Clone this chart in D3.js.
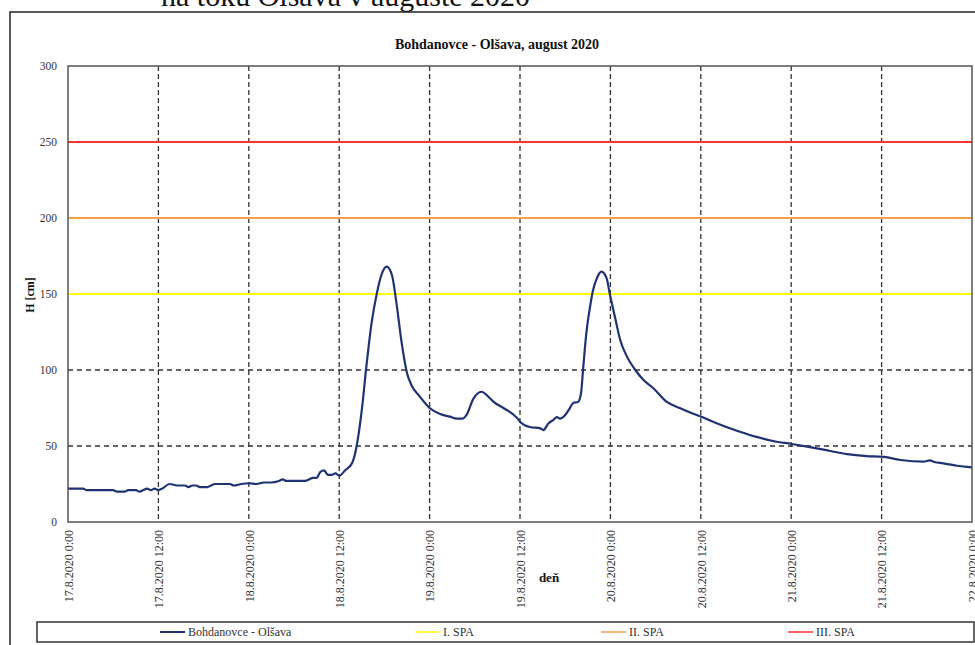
<!DOCTYPE html>
<html><head><meta charset="utf-8">
<script src="https://cdn.jsdelivr.net/npm/d3@7"></script>
<style>body{margin:0;background:#fff}svg{display:block}text{font-family:"Liberation Serif","Times New Roman",serif}</style>
</head><body><svg id="c" width="975" height="645"></svg>
<script>
const title = "Bohdanovce - Olšava, august 2020";
const heading = "na toku Olšava v auguste 2020";
const yTicks = [0, 50, 100, 150, 200, 250, 300];
const xTickLabels = ["17.8.2020 0:00","17.8.2020 12:00","18.8.2020 0:00","18.8.2020 12:00","19.8.2020 0:00","19.8.2020 12:00","20.8.2020 0:00","20.8.2020 12:00","21.8.2020 0:00","21.8.2020 12:00","22.8.2020 0:00"];
// hours since 17.8.2020 0:00
const hours = [0,2,2.5,6,6.5,7.5,8,9,9.5,10,10.5,11,11.5,12,12.5,13.5,14.5,15.5,16,16.5,17,17.5,18.5,19,19.5,21.5,22,23,24,25,26,27,28,28.5,29,31.5,32,32.5,33,33.5,34,34.5,35,35.5,36,36.8,37.7,38.3,39,39.6,40.3,41,41.6,42.3,43,43.6,44.3,45,45.6,46.7,48,49.4,50.7,51.6,52.4,52.9,53.8,54.9,55.8,56.5,57.8,59.6,60,61.3,62.7,63.1,63.8,64.4,64.9,65.3,66,66.6,67.1,67.7,68.1,68.4,68.8,69.3,69.7,70.2,70.8,71.5,71.9,72.6,73.3,74.2,75.3,76.4,77.7,79.5,81.2,82.6,84.1,86.1,89.2,91.4,93.6,96.1,98.1,101.2,103.4,106,108,110.5,113.6,114.4,115,116.2,118,120];
const levels = [22,22,21,21,20,20,21,21,20,21,22,21,22,21,22,25,24,24,23,24,24,23,23,24,25,25,24,25,25.5,25,26,26,27,28,27,27,28,29,29,33,34,31,31,32,30.5,34,38.6,49.5,73.7,102,131,150.5,162.5,168,162.5,144,117.7,98,90,82.5,75,71,69.3,68,68,70.4,81,85.7,82.4,79,75,68.5,66,62.5,61.6,60.5,65,67,69,68,70.4,74.8,78.5,79,84.7,102,124,141.6,152.6,160.3,164.7,160.3,150.5,135,119.7,108.8,100,93.4,88,79,75,72,69.3,65,59.4,56,53.3,51.3,49.6,46.7,44.7,43.4,43,40.8,39.7,40.5,39.5,38.6,37,36];
const spaNames = ["I. SPA","II. SPA","III. SPA"];
const spaValues = [150, 200, 250];
const spaColors = ["#ffff00","#f7a04a","#ff3030"];
const seriesName = "Bohdanovce - Olšava";
const seriesColor = "#1f3374";

const svg = d3.select("#c");
const L = 68, R = 972, T = 66, B = 522;
const t0 = new Date(2020, 7, 17, 0, 0);
const x = d3.scaleTime().domain([t0, new Date(2020, 7, 22, 0, 0)]).range([L, R]);
const y = d3.scaleLinear().domain([0, 300]).range([B, T]);
const hToDate = h => new Date(t0.getTime() + h * 3600000);
const tickDates = xTickLabels.map((s, i) => hToDate(i * 12));

// heading (cut at top)
svg.append("text").attr("x", 161).attr("y", 6).attr("font-size", 30).attr("fill", "#111").text(heading);
// outer frame
svg.append("rect").attr("x", 10).attr("y", 12).attr("width", 990).attr("height", 660)
  .attr("fill", "none").attr("stroke", "#222").attr("stroke-width", 1.5);
// title
svg.append("text").attr("x", 497).attr("y", 49).attr("text-anchor", "middle")
  .attr("font-size", 14).attr("font-weight", "bold").attr("fill", "#111").text(title);

// grid
const g = svg.append("g");
g.selectAll(".vg").data(tickDates.slice(1, -1)).join("line")
  .attr("x1", d => x(d)).attr("x2", d => x(d)).attr("y1", T).attr("y2", B)
  .attr("stroke", "#333").attr("stroke-width", 1.3).attr("stroke-dasharray", "5,3");
g.selectAll(".hg").data(yTicks.slice(1, -1)).join("line")
  .attr("x1", L).attr("x2", R).attr("y1", d => y(d)).attr("y2", d => y(d))
  .attr("stroke", "#333").attr("stroke-width", 1.3).attr("stroke-dasharray", "5,4");

// SPA lines
g.selectAll(".spa").data(spaValues).join("line")
  .attr("x1", L).attr("x2", R).attr("y1", d => y(d)).attr("y2", d => y(d))
  .attr("stroke", (d, i) => spaColors[i]).attr("stroke-width", 1.8);

// axes
const yAxis = d3.axisLeft(y).tickValues(yTicks).tickSize(0).tickPadding(11);
const ya = svg.append("g").attr("transform", `translate(${L},0)`).call(yAxis);
ya.select(".domain").remove();
ya.selectAll("text").attr("font-size", 11.5).attr("fill", "#333").attr("font-family", "Liberation Serif");

const xAxis = d3.axisBottom(x).tickValues(tickDates).tickSize(0).tickFormat((d, i) => xTickLabels[i]);
const xa = svg.append("g").attr("transform", `translate(0,${B})`).call(xAxis);
xa.select(".domain").remove();
xa.selectAll("text").attr("font-size", 12).attr("fill", "#333").attr("font-family", "Liberation Serif")
  .attr("text-anchor", "end").attr("transform", "rotate(-90)").attr("x", -8).attr("y", 0).attr("dy", "0.35em")
  .attr("dx", 0);

// line
const pts = hours.map((h, i) => [hToDate(h), levels[i]]);
svg.append("path").datum(pts)
  .attr("d", d3.line().x(d => x(d[0])).y(d => y(d[1])).curve(d3.curveMonotoneX))
  .attr("fill", "none").attr("stroke", seriesColor).attr("stroke-width", 2.2).attr("stroke-linejoin", "round");

// plot border
svg.append("rect").attr("x", L).attr("y", T).attr("width", R - L).attr("height", B - T)
  .attr("fill", "none").attr("stroke", "#555").attr("stroke-width", 1.5);

// axis titles
svg.append("text").attr("transform", "translate(34,295) rotate(-90)").attr("text-anchor", "middle")
  .attr("font-size", 12).attr("font-weight", "bold").attr("fill", "#111").text("H [cm]");
svg.append("text").attr("x", 549).attr("y", 582).attr("text-anchor", "middle")
  .attr("font-size", 13).attr("font-weight", "bold").attr("fill", "#111").text("deň");

// legend
svg.append("rect").attr("x", 37).attr("y", 622).attr("width", 937).attr("height", 20)
  .attr("fill", "#fff").attr("stroke", "#333").attr("stroke-width", 1.5);
const legItems = [
  {name: seriesName, color: seriesColor, x: 160, w: 2},
  {name: spaNames[0], color: spaColors[0], x: 415, w: 1.5},
  {name: spaNames[1], color: spaColors[1], x: 601, w: 1.5},
  {name: spaNames[2], color: spaColors[2], x: 788, w: 1.5}
];
const lg = svg.selectAll(".leg").data(legItems).join("g");
lg.append("line").attr("x1", d => d.x).attr("x2", d => d.x + 25).attr("y1", 632).attr("y2", 632)
  .attr("stroke", d => d.color).attr("stroke-width", d => d.w);
lg.append("text").attr("x", d => d.x + 28).attr("y", 636).attr("font-size", 12).attr("fill", "#333").text(d => d.name);
</script></body></html>
